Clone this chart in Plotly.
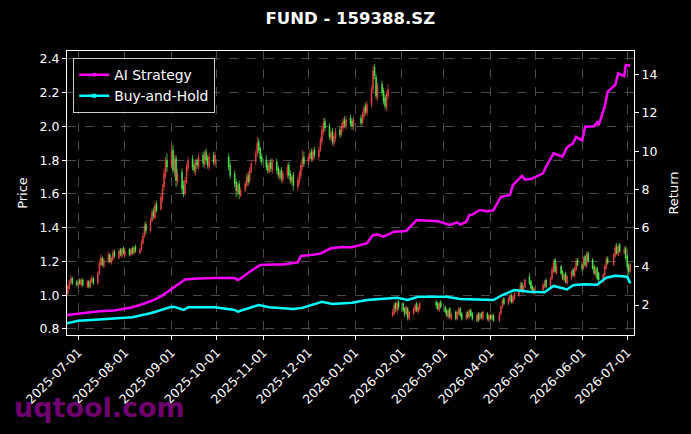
import pandas as pd
import plotly.graph_objects as go

# ---------------- data ----------------
START, END = "2025-06-23", "2026-07-03"
HOLIDAYS = ["2025-10-01", "2025-10-02", "2025-10-03", "2025-10-06", "2025-10-07", "2025-10-08",
            "2026-01-01", "2026-01-02",
            "2026-02-16", "2026-02-17", "2026-02-18", "2026-02-19", "2026-02-20", "2026-02-23",
            "2026-04-06", "2026-05-01", "2026-05-04", "2026-05-05", "2026-06-19"]

OPEN = [
    0.99, 1.01, 1.04, 1.08, 1.10, 1.08,
    1.06, 1.09, 1.06, 1.09, 1.05, 1.08, 1.05, 1.08, 1.10, 1.07, 1.13, 1.18, 1.22, 1.17, 1.20, 1.24, 1.19, 1.21, 1.26, 1.22, 1.27, 1.23, 1.28,
    1.24, 1.27, 1.24, 1.28, 1.25, 1.29, 1.25, 1.27, 1.31, 1.35, 1.42, 1.38, 1.44, 1.50, 1.46, 1.54, 1.51, 1.57, 1.64, 1.71, 1.80,
    1.77, 1.86, 1.73, 1.81, 1.67, 1.73, 1.65, 1.60, 1.67, 1.75, 1.81, 1.77, 1.73, 1.80, 1.76, 1.83, 1.77, 1.85, 1.81, 1.76, 1.83, 1.78,
    1.82, 1.77, 1.72, 1.67, 1.61, 1.66, 1.59, 1.62, 1.65, 1.71, 1.68, 1.73, 1.79, 1.84, 1.91, 1.87, 1.82,
    1.80, 1.77, 1.73, 1.79, 1.74, 1.79, 1.75, 1.70, 1.74, 1.68, 1.71, 1.77, 1.72, 1.67, 1.71, 1.64, 1.67, 1.71, 1.76, 1.82,
    1.79, 1.81, 1.85, 1.80, 1.86, 1.82, 1.86, 1.91, 1.97, 2.03, 2.00, 1.93, 1.97, 1.90, 1.93, 1.98, 1.96, 1.99, 2.04, 2.00, 2.05, 2.03, 2.00,
    2.05, 2.02, 2.06, 2.12, 2.08, 2.13, 2.22, 2.35, 2.29, 2.17, 2.25, 2.21, 2.17, 2.11, 2.18, 0.88, 0.89, 0.95, 0.91, 0.96,
    0.95, 0.92, 0.89, 0.92, 0.86, 0.89, 0.91, 0.95, 0.90, 0.92, 0.96, 0.95, 0.91, 0.96,
    0.93, 0.91, 0.87, 0.92, 0.86, 0.90, 0.86, 0.89, 0.92, 0.89, 0.86, 0.90, 0.87, 0.91, 0.89, 0.85, 0.89, 0.86, 0.89, 0.86, 0.89, 0.85,
    0.88, 0.86, 0.88, 0.85, 0.89, 0.93, 0.98, 0.95, 0.97, 1.00, 0.96, 0.98, 1.00, 1.03, 1.07, 1.02, 1.05, 1.11, 1.08, 1.05, 1.01,
    1.03, 1.05, 1.09, 1.05, 1.10, 1.14, 1.21, 1.13, 1.17, 1.14, 1.09, 1.13, 1.07, 1.10, 1.15, 1.11, 1.15, 1.21,
    1.18, 1.16, 1.23, 1.17, 1.25, 1.21, 1.17, 1.12, 1.16, 1.13, 1.08, 1.12, 1.16, 1.22, 1.18, 1.23, 1.29, 1.24, 1.30, 1.25, 1.28,
    1.23, 1.18, 1.14,
]
HIGH = [
    1.03, 1.06, 1.09, 1.12, 1.11, 1.09,
    1.10, 1.10, 1.10, 1.10, 1.09, 1.09, 1.10, 1.12, 1.11, 1.14, 1.21, 1.24, 1.23, 1.22, 1.26, 1.25, 1.23, 1.27, 1.27, 1.27, 1.28, 1.28, 1.29,
    1.28, 1.28, 1.28, 1.29, 1.29, 1.30, 1.28, 1.33, 1.37, 1.43, 1.44, 1.46, 1.51, 1.52, 1.55, 1.56, 1.60, 1.66, 1.75, 1.82, 1.84,
    1.88, 1.89, 1.83, 1.83, 1.75, 1.75, 1.68, 1.70, 1.78, 1.82, 1.83, 1.79, 1.81, 1.81, 1.84, 1.85, 1.86, 1.87, 1.83, 1.84, 1.85, 1.85,
    1.84, 1.79, 1.74, 1.69, 1.67, 1.68, 1.64, 1.68, 1.72, 1.73, 1.76, 1.80, 1.86, 1.94, 1.93, 1.88, 1.84,
    1.83, 1.79, 1.80, 1.81, 1.81, 1.81, 1.77, 1.75, 1.76, 1.74, 1.78, 1.79, 1.74, 1.72, 1.73, 1.70, 1.74, 1.79, 1.86, 1.85,
    1.84, 1.86, 1.87, 1.87, 1.88, 1.88, 1.94, 2.00, 2.05, 2.05, 2.02, 1.98, 1.99, 1.96, 1.99, 2.00, 2.02, 2.05, 2.06, 2.06, 2.07, 2.05, 2.06,
    2.07, 2.09, 2.13, 2.14, 2.15, 2.24, 2.36, 2.37, 2.31, 2.26, 2.27, 2.23, 2.19, 2.21, 2.25, 0.92, 0.96, 0.96, 0.97, 0.97,
    0.96, 0.93, 0.94, 0.93, 0.91, 0.93, 0.95, 0.96, 0.94, 0.96, 0.97, 0.96, 0.96, 0.97,
    0.94, 0.92, 0.92, 0.93, 0.90, 0.91, 0.91, 0.93, 0.93, 0.90, 0.90, 0.91, 0.92, 0.92, 0.90, 0.89, 0.90, 0.90, 0.90, 0.91, 0.90, 0.89,
    0.89, 0.89, 0.89, 0.90, 0.94, 0.98, 0.99, 0.99, 1.01, 1.01, 1.00, 1.02, 1.04, 1.08, 1.08, 1.06, 1.10, 1.13, 1.09, 1.06, 1.05,
    1.07, 1.09, 1.10, 1.11, 1.17, 1.21, 1.22, 1.19, 1.18, 1.15, 1.13, 1.14, 1.12, 1.15, 1.16, 1.17, 1.22, 1.22,
    1.20, 1.23, 1.24, 1.26, 1.26, 1.22, 1.18, 1.17, 1.17, 1.14, 1.13, 1.18, 1.23, 1.23, 1.25, 1.30, 1.31, 1.30, 1.31, 1.29, 1.29,
    1.24, 1.19, 1.19,
]
LOW = [
    0.98, 1.00, 1.03, 1.06, 1.06, 1.05,
    1.05, 1.06, 1.05, 1.05, 1.04, 1.04, 1.04, 1.07, 1.06, 1.06, 1.12, 1.17, 1.17, 1.16, 1.19, 1.19, 1.18, 1.20, 1.22, 1.21, 1.23, 1.22, 1.24,
    1.23, 1.23, 1.23, 1.24, 1.24, 1.25, 1.24, 1.26, 1.30, 1.34, 1.36, 1.37, 1.43, 1.45, 1.45, 1.49, 1.50, 1.55, 1.62, 1.69, 1.73,
    1.75, 1.72, 1.70, 1.64, 1.65, 1.60, 1.58, 1.59, 1.66, 1.73, 1.74, 1.72, 1.71, 1.75, 1.74, 1.76, 1.75, 1.78, 1.75, 1.74, 1.77, 1.76,
    1.74, 1.69, 1.64, 1.58, 1.59, 1.57, 1.58, 1.61, 1.64, 1.65, 1.66, 1.72, 1.77, 1.82, 1.84, 1.79, 1.77,
    1.74, 1.72, 1.72, 1.73, 1.72, 1.72, 1.69, 1.68, 1.67, 1.66, 1.69, 1.69, 1.66, 1.65, 1.62, 1.62, 1.65, 1.69, 1.74, 1.76,
    1.77, 1.80, 1.79, 1.79, 1.81, 1.80, 1.85, 1.89, 1.95, 1.97, 1.92, 1.91, 1.89, 1.88, 1.91, 1.93, 1.94, 1.97, 1.99, 1.98, 2.00, 1.98, 1.98,
    2.00, 2.01, 2.04, 2.07, 2.06, 2.11, 2.20, 2.28, 2.16, 2.15, 2.18, 2.13, 2.10, 2.09, 2.16, 0.87, 0.88, 0.90, 0.89, 0.91,
    0.90, 0.87, 0.88, 0.85, 0.85, 0.88, 0.90, 0.90, 0.89, 0.91, 0.92, 0.91, 0.90, 0.92,
    0.89, 0.87, 0.86, 0.86, 0.85, 0.85, 0.85, 0.88, 0.87, 0.85, 0.85, 0.86, 0.86, 0.87, 0.85, 0.84, 0.84, 0.85, 0.86, 0.85, 0.85, 0.84,
    0.85, 0.85, 0.84, 0.84, 0.88, 0.92, 0.94, 0.94, 0.96, 0.95, 0.95, 0.97, 0.99, 1.02, 1.01, 1.01, 1.04, 1.06, 1.03, 1.01, 1.00,
    1.02, 1.04, 1.04, 1.04, 1.09, 1.13, 1.13, 1.12, 1.12, 1.09, 1.08, 1.07, 1.06, 1.09, 1.11, 1.10, 1.14, 1.17,
    1.14, 1.15, 1.17, 1.16, 1.19, 1.15, 1.12, 1.11, 1.09, 1.07, 1.07, 1.11, 1.15, 1.18, 1.17, 1.22, 1.24, 1.23, 1.25, 1.24, 1.21,
    1.15, 1.12, 1.13,
]
CLOSE = [
    1.01, 1.05, 1.08, 1.10, 1.07, 1.06,
    1.08, 1.07, 1.09, 1.06, 1.08, 1.05, 1.09, 1.10, 1.07, 1.13, 1.19, 1.22, 1.18, 1.21, 1.24, 1.20, 1.22, 1.25, 1.23, 1.26, 1.24, 1.27, 1.25,
    1.26, 1.24, 1.27, 1.25, 1.28, 1.26, 1.27, 1.31, 1.35, 1.41, 1.38, 1.44, 1.49, 1.47, 1.53, 1.50, 1.58, 1.63, 1.72, 1.79, 1.76,
    1.85, 1.74, 1.80, 1.68, 1.72, 1.63, 1.60, 1.68, 1.76, 1.80, 1.76, 1.74, 1.79, 1.77, 1.82, 1.78, 1.84, 1.80, 1.77, 1.82, 1.79, 1.83,
    1.76, 1.71, 1.66, 1.62, 1.65, 1.60, 1.62, 1.66, 1.70, 1.67, 1.74, 1.78, 1.84, 1.90, 1.86, 1.81, 1.79,
    1.76, 1.74, 1.78, 1.75, 1.79, 1.74, 1.71, 1.73, 1.69, 1.72, 1.76, 1.71, 1.68, 1.70, 1.65, 1.68, 1.72, 1.77, 1.81, 1.78,
    1.82, 1.84, 1.81, 1.85, 1.83, 1.86, 1.92, 1.98, 2.02, 1.99, 1.94, 1.96, 1.91, 1.94, 1.97, 1.95, 2.00, 2.03, 2.01, 2.04, 2.02, 2.00, 2.04,
    2.02, 2.07, 2.11, 2.09, 2.13, 2.22, 2.33, 2.30, 2.18, 2.24, 2.20, 2.15, 2.12, 2.19, 2.22, 0.90, 0.94, 0.92, 0.95, 0.93,
    0.91, 0.89, 0.93, 0.87, 0.90, 0.92, 0.94, 0.91, 0.93, 0.95, 0.94, 0.92, 0.95, 0.93,
    0.90, 0.88, 0.91, 0.87, 0.89, 0.86, 0.90, 0.92, 0.88, 0.86, 0.89, 0.87, 0.91, 0.88, 0.86, 0.88, 0.85, 0.89, 0.87, 0.90, 0.86, 0.88,
    0.86, 0.88, 0.85, 0.89, 0.93, 0.97, 0.95, 0.98, 1.00, 0.96, 0.99, 1.01, 1.03, 1.06, 1.02, 1.05, 1.09, 1.07, 1.04, 1.02, 1.04,
    1.06, 1.08, 1.05, 1.10, 1.15, 1.19, 1.14, 1.17, 1.13, 1.10, 1.12, 1.08, 1.11, 1.14, 1.12, 1.16, 1.20, 1.18,
    1.16, 1.22, 1.18, 1.24, 1.20, 1.16, 1.13, 1.15, 1.10, 1.09, 1.12, 1.17, 1.21, 1.19, 1.24, 1.28, 1.25, 1.29, 1.26, 1.27, 1.22,
    1.17, 1.14, 1.18,
]

AI_DATES = ["2025-06-23", "2025-07-01", "2025-07-15", "2025-07-25", "2025-08-06", "2025-08-13", "2025-08-20",
            "2025-08-25", "2025-09-02", "2025-09-05", "2025-09-10", "2025-09-19", "2025-09-30", "2025-10-13",
            "2025-10-15", "2025-10-17", "2025-10-23", "2025-10-30", "2025-11-07", "2025-11-14", "2025-11-24",
            "2025-11-26", "2025-12-05", "2025-12-09", "2025-12-16", "2025-12-23", "2025-12-30", "2026-01-07",
            "2026-01-09", "2026-01-13", "2026-01-16", "2026-01-20", "2026-01-22", "2026-01-27", "2026-02-04",
            "2026-02-11", "2026-02-25", "2026-03-05", "2026-03-10", "2026-03-12", "2026-03-16", "2026-03-18",
            "2026-03-20", "2026-03-25", "2026-03-30", "2026-04-03", "2026-04-08", "2026-04-14", "2026-04-16",
            "2026-04-22", "2026-04-24", "2026-04-28", "2026-05-06", "2026-05-08", "2026-05-13", "2026-05-19",
            "2026-05-22", "2026-05-26", "2026-05-28", "2026-06-01", "2026-06-03", "2026-06-09", "2026-06-11",
            "2026-06-12", "2026-06-16", "2026-06-18", "2026-06-23", "2026-06-25", "2026-06-29", "2026-06-30",
            "2026-07-03"]
AI_RETURN = [1.48, 1.55, 1.68, 1.72, 1.88, 2.05, 2.25,
             2.45, 2.86, 3.05, 3.33, 3.38, 3.40, 3.40,
             3.30, 3.38, 3.73, 4.08, 4.10, 4.11, 4.22,
             4.55, 4.62, 4.68, 4.95, 5.02, 5.00, 5.15,
             5.22, 5.64, 5.66, 5.55, 5.62, 5.81, 5.85,
             6.42, 6.36, 6.16, 6.30, 6.18, 6.33, 6.68,
             6.70, 6.94, 6.88, 6.92, 7.63, 7.72, 8.24,
             8.71, 8.52, 8.55, 8.85, 9.19, 9.89, 9.71,
             10.20, 10.41, 10.75, 10.55, 11.27, 11.30, 11.50,
             11.35, 12.30, 13.10, 13.44, 14.05, 13.90, 14.48,
             14.44]

BH_DATES = ["2025-06-23", "2025-07-01", "2025-07-15", "2025-08-06", "2025-08-18", "2025-08-27", "2025-09-01",
            "2025-09-03", "2025-09-09", "2025-09-12", "2025-09-30", "2025-10-13", "2025-10-15", "2025-10-29",
            "2025-11-05", "2025-11-21", "2025-11-27", "2025-12-10", "2025-12-17", "2025-12-30", "2026-01-09",
            "2026-01-29", "2026-02-05", "2026-02-12", "2026-03-03", "2026-03-12", "2026-04-03", "2026-04-09",
            "2026-04-17", "2026-04-27", "2026-05-07", "2026-05-13", "2026-05-22", "2026-05-26", "2026-06-02",
            "2026-06-11", "2026-06-17", "2026-06-23", "2026-07-01", "2026-07-03"]
BH_RETURN = [1.04, 1.18, 1.25, 1.36, 1.57, 1.78, 1.91,
             1.90, 1.74, 1.88, 1.88, 1.74, 1.65, 2.00,
             1.88, 1.79, 1.85, 2.17, 2.05, 2.12, 2.26,
             2.38, 2.26, 2.43, 2.43, 2.31, 2.26, 2.52,
             2.78, 2.69, 2.66, 2.99, 2.81, 3.03, 3.08,
             3.05, 3.42, 3.52, 3.47, 3.13]

TITLE = "FUND - 159388.SZ"
MONTH_TICKS = ["2025-07-01", "2025-08-01", "2025-09-01", "2025-10-01", "2025-11-01", "2025-12-01",
               "2026-01-01", "2026-02-01", "2026-03-01", "2026-04-01", "2026-05-01", "2026-06-01", "2026-07-01"]

# ---------------- figure ----------------
days = [d for d in pd.bdate_range(START, END) if d.strftime("%Y-%m-%d") not in HOLIDAYS]
n = min(len(days), len(OPEN), len(HIGH), len(LOW), len(CLOSE))
print("days", len(days), "bars", len(OPEN), len(HIGH), len(LOW), len(CLOSE))

FONT = "DejaVu Sans"
RED = "#f04848"
GREEN = "#50f050"

fig = go.Figure()
fig.add_trace(go.Candlestick(
    x=days[:n], open=OPEN[:n], high=HIGH[:n], low=LOW[:n], close=CLOSE[:n],
    increasing=dict(line=dict(color=RED, width=0.7), fillcolor=RED),
    decreasing=dict(line=dict(color=GREEN, width=0.7), fillcolor=GREEN),
    showlegend=False, xaxis="x", yaxis="y",
))
fig.add_trace(go.Scatter(x=AI_DATES, y=AI_RETURN, mode="lines", yaxis="y2",
                         line=dict(color="#ff00ff", width=2.5), showlegend=False))
fig.add_trace(go.Scatter(x=BH_DATES, y=BH_RETURN, mode="lines", yaxis="y2",
                         line=dict(color="#00ffff", width=2.5), showlegend=False))
# legend entries
fig.add_trace(go.Scatter(x=[None], y=[None], mode="lines+markers", name="AI Strategy", yaxis="y2",
                         line=dict(color="#ff00ff", width=2.5), marker=dict(symbol="circle", size=4)))
fig.add_trace(go.Scatter(x=[None], y=[None], mode="lines+markers", name="Buy-and-Hold", yaxis="y2",
                         line=dict(color="#00ffff", width=2.5), marker=dict(symbol="square", size=4)))

axis_common = dict(showline=True, linecolor="white", linewidth=1.2, ticks="outside", ticklen=4,
                   tickcolor="white", tickwidth=1, tickfont=dict(family=FONT, size=12.5, color="white"),
                   zeroline=False)

fig.update_layout(
    width=691, height=434,
    paper_bgcolor="black", plot_bgcolor="black",
    margin=dict(l=67, r=57, t=51, b=99),
    font=dict(family=FONT, color="white"),
    title=dict(text="<b>" + TITLE + "</b>", x=0.507, xanchor="center", y=0.958, yanchor="middle",
               yref="container", font=dict(family=FONT, size=16.5, color="white")),
    xaxis=dict(type="date", range=["2025-06-23 12:00", "2026-07-05 12:00"], rangeslider=dict(visible=False),
               tickvals=MONTH_TICKS, ticktext=MONTH_TICKS, tickangle=-45, mirror=True,
               showgrid=True, gridcolor="#4a4a4a", griddash="dash", gridwidth=0.8, **axis_common),
    yaxis=dict(range=[0.764, 2.447], tickvals=[0.8, 1.0, 1.2, 1.4, 1.6, 1.8, 2.0, 2.2, 2.4],
               ticktext=["0.8", "1.0", "1.2", "1.4", "1.6", "1.8", "2.0", "2.2", "2.4"],
               title=dict(text="Price", font=dict(family=FONT, size=13, color="white"), standoff=8),
               showgrid=True, gridcolor="#4a4a4a", griddash="dash", gridwidth=0.8, mirror=True, **axis_common),
    yaxis2=dict(range=[0.44, 15.21], overlaying="y", side="right", tickvals=[2, 4, 6, 8, 10, 12, 14],
                title=dict(text="Return", font=dict(family=FONT, size=13, color="white"), standoff=12),
                showgrid=False, **axis_common),
    legend=dict(x=0.011, y=0.975, xanchor="left", yanchor="top", bgcolor="rgba(0,0,0,0.85)",
                bordercolor="#cccccc", borderwidth=1, font=dict(family=FONT, size=13.9, color="white"),
                tracegroupgap=0),
    annotations=[dict(text="<b>uqtool.com</b>", xref="paper", yref="paper", x=-0.097, y=-0.257,
                      xanchor="left", yanchor="middle", showarrow=False,
                      font=dict(family=FONT, size=27, color="rgba(128,0,128,0.9)"))],
)

fig.write_html("out.html", config={"displayModeBar": False},
               post_script="document.body.style.margin='0';document.body.style.background='black';")
